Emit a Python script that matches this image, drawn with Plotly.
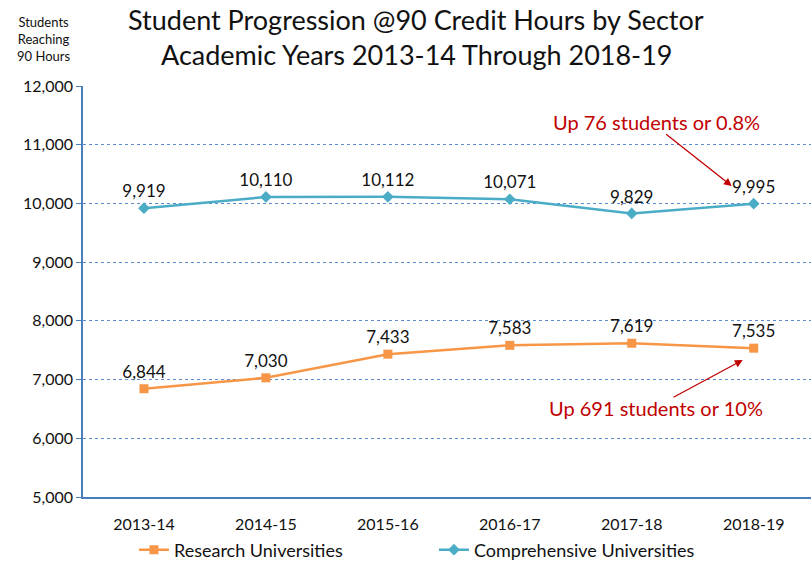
import plotly.graph_objects as go

years = ["2013-14", "2014-15", "2015-16", "2016-17", "2017-18", "2018-19"]
research = [6844, 7030, 7433, 7583, 7619, 7535]
comprehensive = [9919, 10110, 10112, 10071, 9829, 9995]

y_ticks = [5000, 6000, 7000, 8000, 9000, 10000, 11000, 12000]

ORANGE = "#f79646"
TEAL = "#4bacc6"
AXIS_BLUE = "#4a7ebb"
RED = "#c00000"
FONT = "Lato, Carlito, 'Open Sans', sans-serif"

# Plot area in pixels (used to place paper-referenced text)
L, T, R, B = 83, 86, 0, 65
W, H = 811, 562
plot_w = W - L - R
plot_h = H - T - B


def px(x):
    return (x - L) / plot_w


def py(y):
    return (H - B - y) / plot_h


fig = go.Figure()

fig.add_trace(go.Scatter(
    x=years, y=research, name="Research Universities",
    mode="lines+markers+text",
    line=dict(color=ORANGE, width=2.5),
    marker=dict(symbol="square", size=9, color=ORANGE),
    text=[f"{v:,}" for v in research], textposition="top center",
    textfont=dict(size=17, color="#111"),
))
fig.add_trace(go.Scatter(
    x=years, y=comprehensive, name="Comprehensive Universities",
    mode="lines+markers+text",
    line=dict(color=TEAL, width=2.5),
    marker=dict(symbol="diamond", size=9, color=TEAL),
    text=[f"{v:,}" for v in comprehensive], textposition="top center",
    textfont=dict(size=17, color="#111"),
))

# Callouts for the change from the first year to the last
fig.add_annotation(x=4.82, y=10297, ax=4.27, ay=11200, xref="x", yref="y",
                   axref="x", ayref="y", text="", showarrow=True,
                   arrowhead=2, arrowsize=1.2, arrowwidth=1.3, arrowcolor=RED)
fig.add_annotation(x=4.20, y=11387, xref="x", yref="y", showarrow=False,
                   text="Up 76 students or 0.8%",
                   font=dict(size=20, color=RED, family=FONT))
fig.add_annotation(x=4.91, y=7333, ax=4.33, ay=6686, xref="x", yref="y",
                   axref="x", ayref="y", text="", showarrow=True,
                   arrowhead=2, arrowsize=1.2, arrowwidth=1.3, arrowcolor=RED)
fig.add_annotation(x=4.20, y=6516, xref="x", yref="y", showarrow=False,
                   text="Up 691 students or 10%",
                   font=dict(size=20, color=RED, family=FONT))

# Title, two centred lines
fig.add_annotation(x=px(416), y=py(20), xref="paper", yref="paper",
                   xanchor="center", yanchor="middle",
                   showarrow=False, text="Student Progression @90 Credit Hours by Sector",
                   font=dict(size=27, color="#111", family=FONT))
fig.add_annotation(x=px(416), y=py(55), xref="paper", yref="paper",
                   xanchor="center", yanchor="middle",
                   showarrow=False, text="Academic Years 2013-14 Through 2018-19",
                   font=dict(size=27, color="#111", family=FONT))

# Value-axis title above the tick labels
fig.add_annotation(x=px(43), y=py(39), xref="paper", yref="paper", showarrow=False,
                   xanchor="center", yanchor="middle",
                   text="Students<br>Reaching<br>90 Hours",
                   font=dict(size=13, color="#111", family=FONT))

fig.update_layout(
    width=W, height=H,
    margin=dict(l=L, r=R, t=T, b=B, autoexpand=False),
    paper_bgcolor="white", plot_bgcolor="white",
    font=dict(family=FONT, size=16, color="#111"),
    showlegend=True,
    legend=dict(orientation="h", x=0.07, xanchor="left",
                yref="container", y=(H - 550) / H, yanchor="middle",
                font=dict(size=18, color="#111"), entrywidth=255,
                bgcolor="rgba(0,0,0,0)"),
    xaxis=dict(
        type="category", range=[-0.5, 5.47],
        showline=True, linecolor=AXIS_BLUE, linewidth=1.5,
        showgrid=False, ticks="", tickfont=dict(size=16),
        ticklabelstandoff=12, automargin=False,
    ),
    yaxis=dict(
        range=[5000, 12000], tickvals=y_ticks,
        tickformat=",", showline=True, linecolor=AXIS_BLUE, linewidth=1.5,
        showgrid=True, gridcolor="#5b8bd0", griddash="dot", gridwidth=1,
        ticks="outside", ticklen=5, tickcolor=AXIS_BLUE,
        tickfont=dict(size=16), zeroline=False, automargin=False,
    ),
)

fig.write_html("out.html")
